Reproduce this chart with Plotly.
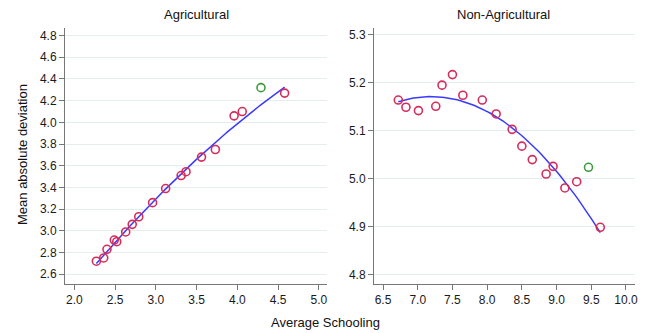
import numpy as np
import plotly.graph_objects as go

# ---- data ----
ag_x = [2.27, 2.36, 2.40, 2.49, 2.52, 2.63, 2.71, 2.79, 2.96, 3.12, 3.31, 3.37, 3.56, 3.73, 3.96, 4.06, 4.58]
ag_y = [2.72, 2.75, 2.83, 2.915, 2.90, 2.99, 3.06, 3.13, 3.26, 3.39, 3.51, 3.545, 3.68, 3.75, 4.06, 4.10, 4.27]
ag_out_x = [4.29]
ag_out_y = [4.32]

na_x = [6.72, 6.83, 7.01, 7.26, 7.35, 7.50, 7.65, 7.93, 8.13, 8.36, 8.50, 8.65, 8.85, 8.95, 9.12, 9.29, 9.63]
na_y = [5.164, 5.149, 5.142, 5.151, 5.195, 5.217, 5.174, 5.164, 5.135, 5.103, 5.068, 5.040, 5.010, 5.026, 4.981, 4.994, 4.899]
na_out_x = [9.46]
na_out_y = [5.024]

ag_xticks = [2.0, 2.5, 3.0, 3.5, 4.0, 4.5, 5.0]
ag_yticks = [2.6, 2.8, 3.0, 3.2, 3.4, 3.6, 3.8, 4.0, 4.2, 4.4, 4.6, 4.8]
na_xticks = [6.5, 7.0, 7.5, 8.0, 8.5, 9.0, 9.5, 10.0]
na_yticks = [4.8, 4.9, 5.0, 5.1, 5.2, 5.3]

RED = "#d42d5b"
GREEN = "#3c9c3c"
BLUE = "#3a3aff"
FONT = "Liberation Sans, Arial, sans-serif"


def qfit(x, y):
    c = np.polyfit(x, y, 2)
    xs = np.linspace(min(x), max(x), 80)
    return xs, np.polyval(c, xs)


fig = go.Figure()

for (xs, ys, ox, oy, xa, ya) in [
    (ag_x, ag_y, ag_out_x, ag_out_y, "x", "y"),
    (na_x, na_y, na_out_x, na_out_y, "x2", "y2"),
]:
    fx, fy = qfit(xs, ys)
    fig.add_trace(go.Scatter(x=fx, y=fy, mode="lines", line=dict(color=BLUE, width=1.5),
                             xaxis=xa, yaxis=ya, showlegend=False, hoverinfo="skip"))
    fig.add_trace(go.Scatter(x=xs, y=ys, mode="markers",
                             marker=dict(symbol="circle-open", size=8, color=RED, line=dict(width=1.6)),
                             xaxis=xa, yaxis=ya, showlegend=False))
    fig.add_trace(go.Scatter(x=ox, y=oy, mode="markers",
                             marker=dict(symbol="circle-open", size=8, color=GREEN, line=dict(width=1.6)),
                             xaxis=xa, yaxis=ya, showlegend=False))

OFF = 8  # page body margin
W, H = 651 - OFF, 333 - OFF


def px(v):
    return (v - OFF) / W


def py(v):
    return 1 - (v - OFF) / H


top = 28
bottom = 284
ydom = [py(bottom), py(top)]

axis_common = dict(
    showline=True, linecolor="#777777", linewidth=1,
    ticks="outside", ticklen=5, tickcolor="#777777",
    tickfont=dict(family=FONT, size=12, color="#1a1a1a"),
    zeroline=False, automargin=False,
)

ann_font = dict(family=FONT, size=13, color="#111111")

fig.update_layout(
    width=W, height=H,
    margin=dict(l=0, r=0, t=0, b=0, autoexpand=False),
    paper_bgcolor="white", plot_bgcolor="white",
    font=dict(family=FONT, color="#222222"),
    xaxis=dict(domain=[px(65), px(327)], range=[1.885, 5.1], tickvals=ag_xticks,
               ticktext=[f"{v:.1f}" for v in ag_xticks], showgrid=False, anchor="y", **axis_common),
    yaxis=dict(domain=ydom, range=[2.51, 4.87], tickvals=ag_yticks,
               ticktext=[f"{v:.1f}" for v in ag_yticks], showgrid=True, gridcolor="#e4eeee",
               gridwidth=1, anchor="x", **axis_common),
    xaxis2=dict(domain=[px(374), px(635)], range=[6.37, 10.13], tickvals=na_xticks,
                ticktext=[f"{v:.1f}" for v in na_xticks], showgrid=False, anchor="y2", **axis_common),
    yaxis2=dict(domain=ydom, range=[4.781, 5.314], tickvals=na_yticks,
                ticktext=[f"{v:.1f}" for v in na_yticks], showgrid=True, gridcolor="#e4eeee",
                gridwidth=1, anchor="x2", **axis_common),
    annotations=[
        dict(text="Agricultural", x=px(196), y=py(15), xref="paper", yref="paper",
             xanchor="center", yanchor="middle", showarrow=False, font=ann_font),
        dict(text="Non-Agricultural", x=px(504), y=py(15), xref="paper", yref="paper",
             xanchor="center", yanchor="middle", showarrow=False, font=ann_font),
        dict(text="Average Schooling", x=px(325), y=py(322), xref="paper", yref="paper",
             xanchor="center", yanchor="middle", showarrow=False, font=ann_font),
        dict(text="Mean absolute deviation", x=px(22), y=py(155), xref="paper", yref="paper",
             xanchor="center", yanchor="middle", showarrow=False, textangle=-90, font=ann_font),
    ],
)

fig.write_html("out.html")
